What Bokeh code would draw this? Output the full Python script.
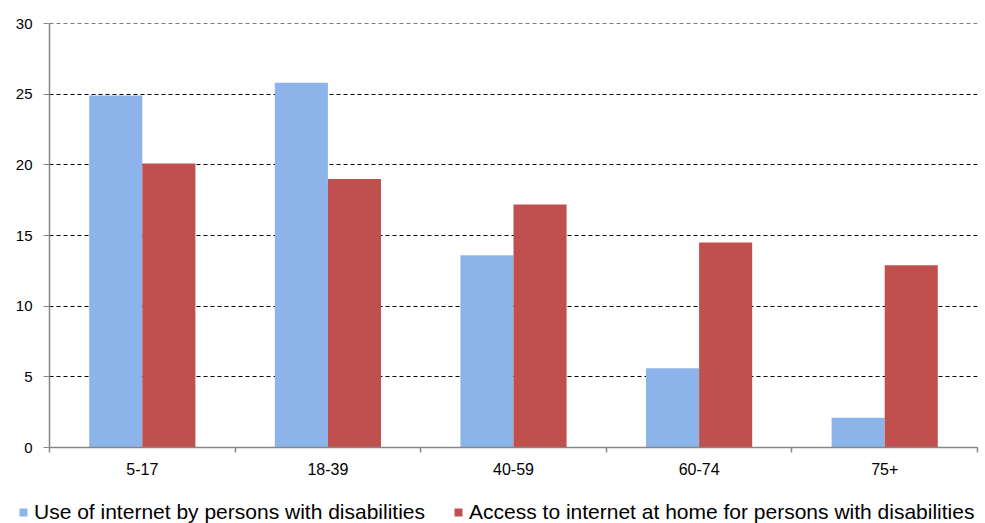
from bokeh.plotting import figure
from bokeh.layouts import column
from bokeh.models import FixedTicker, Range1d, Legend, LegendItem, ColumnDataSource, Span
from bokeh.embed import file_html
from bokeh.resources import INLINE

categories = ["5-17", "18-39", "40-59", "60-74", "75+"]
use_internet = [24.9, 25.8, 13.6, 5.6, 2.1]
access_home = [20.1, 19.0, 17.2, 14.5, 12.9]
series_names = ["Use of internet by persons with disabilities",
                "Access to internet at home for persons with disabilities"]
colors = ["#8DB4EA", "#C0504D"]
y_ticks = [0, 5, 10, 15, 20, 25, 30]

n = len(categories)
idx = list(range(n))
bw = 0.286
src = ColumnDataSource(dict(
    xb=[i + 0.5 - bw / 2 for i in idx],
    xr=[i + 0.5 + bw / 2 for i in idx],
    use=use_internet,
    acc=access_home,
))

p = figure(frame_width=928, frame_height=424, output_backend="svg", toolbar_location=None,
           x_range=Range1d(0, n), y_range=Range1d(0, 30),
           min_border_left=49, min_border_right=8, min_border_top=23, min_border_bottom=33)
p.frame_align = False
p.outline_line_color = None
p.xgrid.visible = False

r1 = p.vbar(x="xb", top="use", width=bw, source=src, fill_color=colors[0], line_color=None)
r2 = p.vbar(x="xr", top="acc", width=bw, source=src, fill_color=colors[1], line_color=None)

p.ygrid.ticker = FixedTicker(ticks=y_ticks[1:])
p.ygrid.grid_line_color = "#000000"
p.ygrid.grid_line_dash = "4 3"
p.ygrid.grid_line_width = 1
p.add_layout(Span(location=y_ticks[-1], dimension="width", line_color="#000000",
                  line_dash="4 3", line_width=1))

p.yaxis.ticker = FixedTicker(ticks=y_ticks)
p.yaxis.axis_line_color = "#868686"
p.yaxis.axis_line_width = 1.5
p.yaxis.major_tick_line_color = "#868686"
p.yaxis.major_tick_out = 6
p.yaxis.major_tick_in = 0
p.yaxis.minor_tick_line_color = None
p.yaxis.major_label_standoff = 11
p.yaxis.major_label_text_font = "Liberation Sans"
p.yaxis.major_label_text_font_size = "15px"
p.yaxis.major_label_text_color = "#000000"

p.xaxis.ticker = FixedTicker(ticks=[i + 0.5 for i in idx], minor_ticks=list(range(n + 1)))
p.xaxis.major_label_overrides = {i + 0.5: c for i, c in zip(idx, categories)}
p.xaxis.axis_line_color = "#868686"
p.xaxis.axis_line_width = 1.5
p.xaxis.major_tick_line_color = None
p.xaxis.minor_tick_line_color = "#868686"
p.xaxis.minor_tick_line_width = 1.5
p.xaxis.minor_tick_out = 5
p.xaxis.minor_tick_in = 0
p.xaxis.major_label_standoff = 9
p.xaxis.major_label_text_font = "Liberation Sans"
p.xaxis.major_label_text_font_size = "16px"
p.xaxis.major_label_text_color = "#000000"

# legend strip below the chart
lf = figure(width=985, height=43, output_backend="svg", toolbar_location=None,
            x_range=Range1d(0, 985), y_range=Range1d(0, 43),
            min_border=0, outline_line_color=None)
lf.frame_align = False
lf.axis.visible = False
lf.grid.visible = False
dummy = ColumnDataSource(dict(x=[-1000], top=[0]))
l1 = lf.vbar(x="x", top="top", width=1, source=dummy, fill_color=colors[0], line_color=None)
l2 = lf.vbar(x="x", top="top", width=1, source=dummy, fill_color=colors[1], line_color=None)
legend = Legend(items=[LegendItem(label=series_names[0], renderers=[l1]),
                       LegendItem(label=series_names[1], renderers=[l2])],
                orientation="horizontal", location=(18, -1),
                border_line_color=None, background_fill_alpha=0,
                label_text_font="Liberation Sans", label_text_font_size="21px",
                label_text_color="#000000",
                glyph_width=10, glyph_height=10, label_standoff=6,
                spacing=28, padding=0, margin=0)
lf.add_layout(legend, "center")

layout = column(p, lf, spacing=0)
open("out.html", "w").write(file_html(layout, INLINE))
